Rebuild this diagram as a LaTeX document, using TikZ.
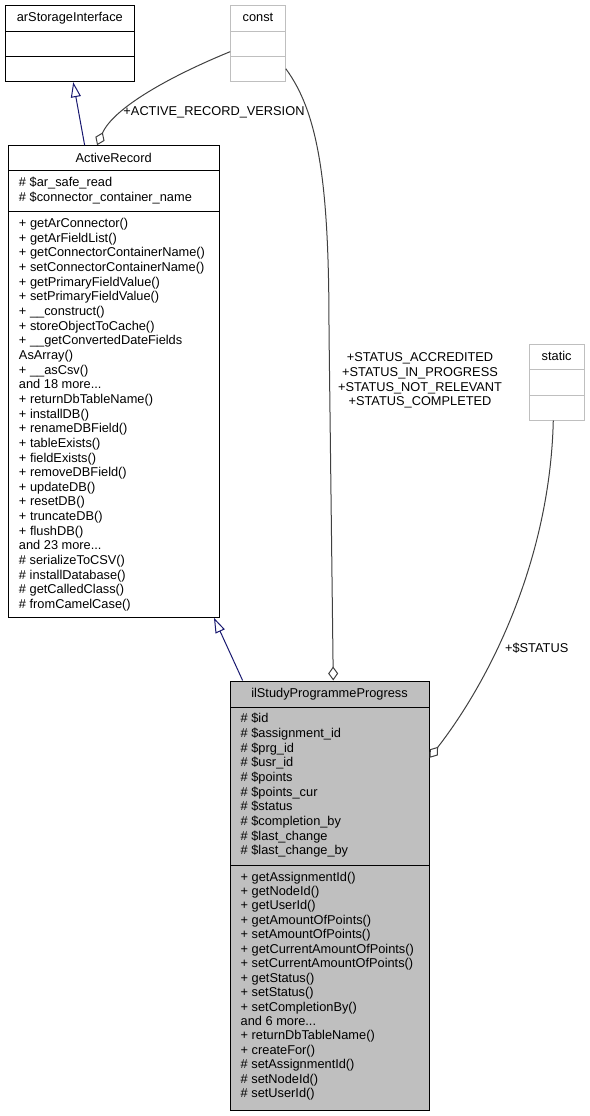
\documentclass[tikz,border=0pt]{standalone}
\usepackage{fontspec}
\setmainfont{Liberation Sans}
\usepackage{tikz}
\usetikzlibrary{arrows.meta}
\definecolor{inhblue}{HTML}{191970}
\definecolor{edgegrey}{HTML}{404040}
\definecolor{boxgrey}{HTML}{BFBFBF}
\newcommand{\moredots}{...}
\tikzstyle{classbox} = [rectangle, draw, line width=1pt, inner sep=0pt]
\tikzstyle{txt} = [inner sep=0pt, font=\fontsize{12.8}{14.6}\selectfont]
\tikzstyle{inherit} = [draw=inhblue, line width=1pt, -{Triangle[open, length=15pt, width=10pt]}]
\tikzstyle{aggreg} = [draw=edgegrey, line width=1pt, -{Diamond[open, length=14pt, width=10pt]}]

\begin{document}
\begin{tikzpicture}[x=1pt, y=-1pt]
    \useasboundingbox (0,0) rectangle (589,1116);

    % arStorageInterface
    \node[classbox, minimum width=129.7pt, minimum height=76pt] (ars) at (69.85,43.7) {};
    \node[txt, anchor=base] (arsname) at (69.85,21.6) {arStorageInterface};
    \draw[line width=1pt] (5,31.7) -- (134.7,31.7);
    \draw[line width=1pt] (5,56.7) -- (134.7,56.7);

    % const
    \node[classbox, draw=boxgrey, minimum width=54.6pt, minimum height=76pt] (constcls) at (258,43.7) {};
    \node[txt, anchor=base] (constname) at (258,21.6) {const};
    \draw[line width=1pt, boxgrey] (230.7,31.7) -- (285.3,31.7);
    \draw[line width=1pt, boxgrey] (230.7,56.7) -- (285.3,56.7);

    % static
    \node[classbox, draw=boxgrey, minimum width=54.7pt, minimum height=76pt] (staticcls) at (556.65,382) {};
    \node[txt, anchor=base] (staticname) at (556.65,360) {static};
    \draw[line width=1pt, boxgrey] (529.3,369.3) -- (584,369.3);
    \draw[line width=1pt, boxgrey] (529.3,395) -- (584,395);

    % ActiveRecord
    \node[classbox, fill=white, minimum width=210.7pt, minimum height=471.6pt] (AR) at (113.65,381.5) {};
    \node[txt, anchor=base] (arname) at (113.65,162) {ActiveRecord};
    \draw[line width=1pt] (8.3,170.7) -- (219,170.7);
    \draw[line width=1pt] (8.3,211) -- (219,211);
    \foreach \a [count=\i from 0] in {\# \$ar\_safe\_read, \# \$connector\_container\_name}
        \node[txt, anchor=base west] (ara\i) at (18.8,186.8+\i*14.67) {\a};
    \foreach \m [count=\i from 0] in {+ getArConnector(), + getArFieldList(),
        + getConnectorContainerName(), + setConnectorContainerName(),
        + getPrimaryFieldValue(), + setPrimaryFieldValue(), + \_\_construct(),
        + storeObjectToCache(), + \_\_getConvertedDateFields, AsArray(),
        + \_\_asCsv(), and 18 more\moredots, + returnDbTableName(), + installDB(),
        + renameDBField(), + tableExists(), + fieldExists(), + removeDBField(),
        + updateDB(), + resetDB(), + truncateDB(), + flushDB(), and 23 more\moredots,
        \# serializeToCSV(), \# installDatabase(), \# getCalledClass(), \# fromCamelCase()}
        \node[txt, anchor=base west] (arm\i) at (18.8,227.6+\i*14.65) {\m};

    % ilStudyProgrammeProgress
    \node[classbox, fill=boxgrey, minimum width=199pt, minimum height=429pt] (ilspp) at (329.5,895.5) {};
    \node[txt, anchor=base] (ilsppname) at (329.5,697.6) {ilStudyProgrammeProgress};
    \draw[line width=1pt] (230,707.3) -- (429,707.3);
    \draw[line width=1pt] (230,865.7) -- (429,865.7);
    \foreach \a [count=\i from 0] in {\# \$id, \# \$assignment\_id, \# \$prg\_id, \# \$usr\_id,
        \# \$points, \# \$points\_cur, \# \$status, \# \$completion\_by, \# \$last\_change,
        \# \$last\_change\_by}
        \node[txt, anchor=base west] (ilsppa\i) at (240.5,722.6+\i*14.7) {\a};
    \foreach \m [count=\i from 0] in {+ getAssignmentId(), + getNodeId(), + getUserId(),
        + getAmountOfPoints(), + setAmountOfPoints(), + getCurrentAmountOfPoints(),
        + setCurrentAmountOfPoints(), + getStatus(), + setStatus(), + setCompletionBy(),
        and 6 more\moredots, + returnDbTableName(), + createFor(), \# setAssignmentId(),
        \# setNodeId(), \# setUserId()}
        \node[txt, anchor=base west] (ilsppm\i) at (240.5,881+\i*14.45) {\m};

    % Arrows
    \draw[inherit] (AR.97.5) -- (ars.-85.6);
    \draw[inherit] (ilspp.112.8) -- (AR.-67.1);
    \draw[aggreg] (constcls.196) .. controls (170.7,76) and (113.7,107.6) .. (AR.94.4);
    \draw[aggreg] (constcls.-42.8) .. controls (320,115) and (329,190) .. (329,330) -- (ilspp.89.3);
    \draw[aggreg] (staticcls.-95) .. controls (550,560) and (490,680) .. (ilspp.54);

    % Labels
    \node[txt] (verlabel) at (214,112.7) {+ACTIVE\_RECORD\_VERSION};
    \node[txt, align=center] (statuslabel) at (420,380.5) {+STATUS\_ACCREDITED\\+STATUS\_IN\_PROGRESS\\+STATUS\_NOT\_RELEVANT\\+STATUS\_COMPLETED};
    \node[txt] (dstatuslabel) at (536.7,648.3) {+\$STATUS};
\end{tikzpicture}
\end{document}
